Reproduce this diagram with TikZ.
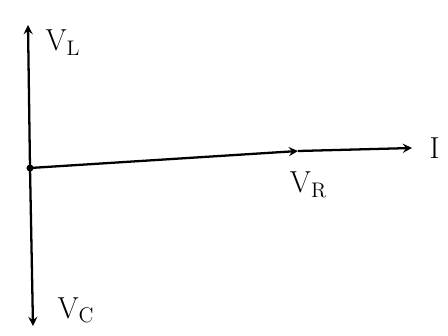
\documentclass[tikz,border=0pt]{standalone}
\usepackage{amsmath,amssymb}
\usetikzlibrary{arrows.meta,calc}

\begin{document}
\begin{tikzpicture}[>=stealth, x=0.02cm, y=-0.02cm, line width=1.3pt]
  \useasboundingbox (0,0) rectangle (448,335);
  \coordinate (O) at (30,168);
  \fill (O) circle (2pt);

  % fasores de tensao
  \coordinate (L) at (28,25);
  \coordinate (C) at (33,326);
  \coordinate (R) at (298,151);
  \coordinate (I) at (412,148);

  \draw[->] (O) -- (L) node[right, xshift=6pt, yshift=-10pt]{\LARGE $\mathrm{V}_{\mathrm{L}}$};
  \draw[->] (O) -- (C) node[right, xshift=10pt, yshift=9pt]{\LARGE $\mathrm{V}_{\mathrm{C}}$};
  \draw[->] (O) -- (R) node[below, xshift=6pt, yshift=-8pt]{\LARGE $\mathrm{V}_{\mathrm{R}}$};

  % corrente
  \draw[->] (R) -- (I) node[right, xshift=6pt]{\LARGE $\mathrm{I}$};
\end{tikzpicture}
\end{document}
